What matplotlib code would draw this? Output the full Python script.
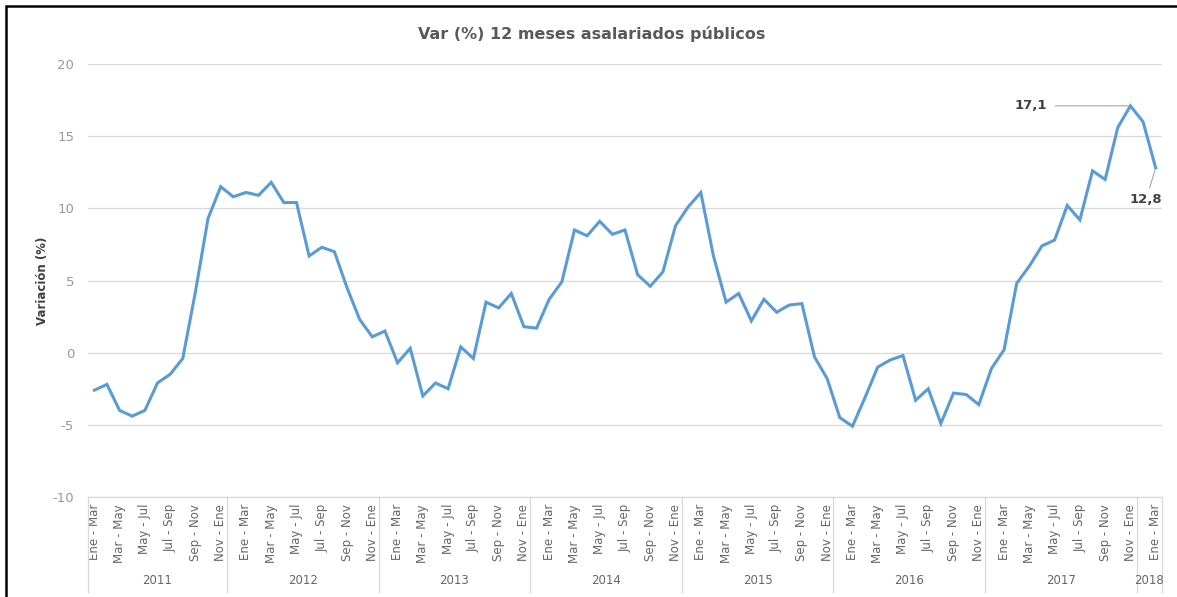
import numpy as np
import matplotlib
matplotlib.use("Agg")
import matplotlib.pyplot as plt
import matplotlib.transforms as mtransforms

# rolling three-month periods, Ene-Mar 2011 .. Ene-Mar 2018
periodos = ["Ene - Mar", "Feb - Abr", "Mar - May", "Abr - Jun", "May - Jul", "Jun - Ago",
            "Jul - Sep", "Ago - Oct", "Sep - Nov", "Oct - Dic", "Nov - Ene", "Dic - Feb"]
anios = [2011, 2012, 2013, 2014, 2015, 2016, 2017, 2018]

var_2011 = [-2.6, -2.2, -4.0, -4.4, -4.0, -2.1, -1.5, -0.4, 4.2, 9.3, 11.5]
var_2012 = [10.8, 11.1, 10.9, 11.8, 10.4, 10.4, 6.7, 7.3, 7.0, 4.5, 2.3, 1.1]
var_2013 = [1.5, -0.7, 0.3, -3.0, -2.1, -2.5, 0.4, -0.4, 3.5, 3.1, 4.1, 1.8]
var_2014 = [1.7, 3.7, 4.9, 8.5, 8.1, 9.1, 8.2, 8.5, 5.4, 4.6, 5.6, 8.8]
var_2015 = [10.1, 11.1, 6.7, 3.5, 4.1, 2.2, 3.7, 2.8, 3.3, 3.4, -0.3, -1.8]
var_2016 = [-4.5, -5.1, -3.1, -1.0, -0.5, -0.2, -3.3, -2.5, -4.9, -2.8, -2.9, -3.6]
var_2017 = [-1.1, 0.2, 4.8, 6.0, 7.4, 7.8, 10.2, 9.2, 12.6, 12.0, 15.6, 17.1]
var_2018 = [16.0, 12.8]

valores = np.array(var_2011 + var_2012 + var_2013 + var_2014 + var_2015 + var_2016 + var_2017 + var_2018)
n = len(valores)
x = np.arange(n)
etiquetas = [periodos[i % 12] for i in range(n)]
grupo = [anios[0] + (i + 1) // 12 for i in range(n)]   # Dic-Feb goes with next year

gris = "#595959"
azul = "#5B9BD5"
plt.rcParams["font.family"] = "DejaVu Sans"
plt.rcParams["axes.unicode_minus"] = False

fig = plt.figure(figsize=(11.77, 5.97), dpi=100)
W, H = 1177, 597
ax = fig.add_axes([88 / W, (H - 497) / H, (1162 - 88) / W, (497 - 64) / H])

ax.plot(x, valores, color=azul, lw=2.2, solid_joinstyle="miter")
ax.set_xlim(-0.5, n - 0.5)
ax.set_ylim(-10, 20)
ax.set_yticks(np.arange(-10, 21, 5))
ax.tick_params(axis="y", length=0, labelsize=9.5, labelcolor="#999999", pad=10)
ax.grid(axis="y", color="#D9D9D9", lw=0.9)
ax.set_axisbelow(True)
for s in ["top", "right", "left"]:
    ax.spines[s].set_visible(False)
ax.spines["bottom"].set_color("#D9D9D9")
ax.spines["bottom"].set_linewidth(0.9)

ax.set_xticks(x[::2])
ax.set_xticklabels(etiquetas[::2], rotation=90, va="top", ha="center")
ax.tick_params(axis="x", length=0, labelsize=8.5, labelcolor="#666666", pad=5)

# year groups and separators
tr = mtransforms.blended_transform_factory(ax.transData, ax.transAxes)
yb = -(592 - 497) / (497 - 64)
bordes = [-0.5]
for i in range(1, n):
    if grupo[i] != grupo[i - 1]:
        bordes.append(i - 0.5)
bordes.append(n - 0.5)
for b in bordes:
    ax.plot([b, b], [0, yb], color="#D9D9D9", lw=0.9, transform=tr, clip_on=False)
for k in range(len(bordes) - 1):
    ax.text((bordes[k] + bordes[k + 1]) / 2, -(581 - 497) / (497 - 64), str(anios[k]),
            transform=tr, ha="center", va="center", fontsize=8.5, color="#666666")

ax.set_ylabel("Variación (%)", fontsize=8.5, fontweight="bold", color="#404040", labelpad=2.5)
fig.text(592 / W, 1 - 34 / H, "Var (%) 12 meses asalariados públicos", ha="center", va="center",
         fontsize=11.5, fontweight="bold", color=gris)

# data labels
imax = int(np.argmax(valores))
ax.annotate(f"{valores[imax]:.1f}".replace(".", ","), xy=(x[imax], valores[imax]),
            xytext=(-60, 0), textcoords="offset points", ha="right", va="center",
            fontsize=9.5, fontweight="bold", color="#404040",
            arrowprops=dict(arrowstyle="-", color="#A6A6A6", lw=0.8, shrinkA=4, shrinkB=1))
ax.annotate(f"{valores[-1]:.1f}".replace(".", ","), xy=(x[-1], valores[-1]),
            xytext=(-7, -23), textcoords="offset points", ha="center", va="center",
            fontsize=9.5, fontweight="bold", color="#404040",
            arrowprops=dict(arrowstyle="-", color="#A6A6A6", lw=0.8, shrinkA=2, shrinkB=2))

# outer frame
fig.patches.append(plt.Rectangle((6 / W, -0.05), 1.2, 1 - 6 / H + 0.05, transform=fig.transFigure,
                                 fill=False, edgecolor="black", lw=1.8))

fig.savefig("out.png", dpi=100)
